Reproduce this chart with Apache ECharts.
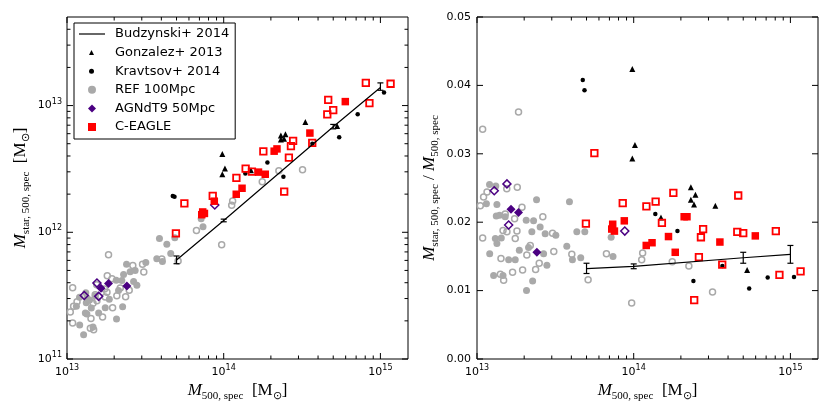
<!DOCTYPE html>
<html><head><meta charset="utf-8">
<script src="https://cdn.jsdelivr.net/npm/echarts@6/dist/echarts.min.js"></script>
<style>html,body{margin:0;padding:0;background:#fff}#c{width:830px;height:415px}</style>
</head><body><div id="c"></div>
<script>
// ---- data: [log10 M500 (Msun), Mstar/M500] ----
const refFilled = [[13.08,0.0255],[13.12,0.0253],[13.38,0.0233],[13.59,0.0230],[13.127,0.0226],[13.123,0.0209],[13.144,0.0210],[13.18,0.0208],[13.314,0.0203],[13.361,0.0202],[13.403,0.0193],[13.35,0.0186],[13.435,0.0183],[13.117,0.0176],[13.155,0.0177],[13.127,0.0169],[13.081,0.0154],[13.27,0.0159],[13.329,0.0163],[13.244,0.0145],[13.202,0.0145],[13.425,0.0154],[13.446,0.0137],[13.106,0.0122],[13.166,0.0122],[13.355,0.0114],[13.316,0.0100],[13.637,0.0186],[13.688,0.0186],[13.573,0.0165],[13.609,0.0145],[13.662,0.0148],[13.503,0.0181],[13.856,0.0178],[13.868,0.0150],[13.06,0.0227]];
const refHollow = [[13.265,0.0361],[13.036,0.0336],[13.257,0.0251],[13.19,0.0249],[13.064,0.0244],[13.042,0.0237],[13.021,0.0224],[13.036,0.0177],[13.153,0.0147],[13.149,0.0124],[13.17,0.0115],[13.227,0.0127],[13.291,0.0130],[13.374,0.0131],[13.397,0.0140],[13.49,0.0157],[13.605,0.0153],[13.709,0.0116],[13.826,0.0154],[13.987,0.0082],[14.057,0.0155],[14.051,0.0145],[14.246,0.0142],[14.352,0.0136],[14.503,0.0098],[13.191,0.0186],[13.255,0.0187],[13.482,0.0184],[13.18,0.0212],[13.24,0.0205],[13.287,0.0222],[13.42,0.0208],[13.166,0.0188],[13.244,0.0176],[13.34,0.0166],[13.318,0.0152]];
const agnFilled = [[13.217,0.0219],[13.265,0.0214],[13.382,0.0156]];
const agnHollow = [[13.191,0.0256],[13.110,0.0246],[13.202,0.0196],[13.943,0.0187]];
const ceFilled = [[13.866,0.0197],[13.860,0.0190],[13.877,0.0187],[13.940,0.0202],[14.080,0.0166],[14.117,0.0170],[14.222,0.0179],[14.265,0.0156],[14.322,0.0208],[14.340,0.0208],[14.550,0.0171],[14.776,0.0180]];
const ceHollow = [[13.749,0.0301],[13.930,0.0228],[14.081,0.0223],[14.140,0.0230],[14.253,0.0243],[14.667,0.0239],[13.695,0.0198],[14.180,0.0199],[14.443,0.0190],[14.429,0.0178],[14.416,0.0149],[14.565,0.0138],[14.661,0.0186],[14.699,0.0184],[14.907,0.0187],[14.930,0.0123],[15.065,0.0128],[14.386,0.0086]];
const kravtsov = [[13.675,0.0408],[13.686,0.0393],[14.138,0.0212],[14.279,0.0187],[14.381,0.0114],[14.566,0.0136],[14.737,0.0103],[14.855,0.0119],[15.023,0.0120]];
const gonzalez = [[13.991,0.0424],[14.008,0.0313],[13.991,0.0293],[14.365,0.0251],[14.394,0.0240],[14.365,0.0233],[14.385,0.0226],[14.521,0.0224],[14.174,0.0207],[14.724,0.0130]];
// Budzynski+ 2014 fit
const budM = [5e13, 1e14, 5e14, 1e15];
const budMstar = [6.05e11, 1.24e12, 6.8e12, 1.39e13];
const budMstarLo = [5.65e11, 1.21e12, 6.55e12, 1.32e13];
const budMstarHi = [6.5e11, 1.27e12, 7.1e12, 1.51e13];
const budFrac = [0.0132, 0.01355, 0.0148, 0.0153];
const budFracLo = [0.0125, 0.0132, 0.0140, 0.0140];
const budFracHi = [0.0140, 0.0139, 0.0156, 0.0166];
// ticks
const xMajor = [1e13, 1e14, 1e15];
const xMinor = [2e13,3e13,4e13,5e13,6e13,7e13,8e13,9e13,2e14,3e14,4e14,5e14,6e14,7e14,8e14,9e14];
const yLeftMajor = [1e11, 1e12, 1e13];
const yLeftMinor = [2e11,3e11,4e11,5e11,6e11,7e11,8e11,9e11,2e12,3e12,4e12,5e12,6e12,7e12,8e12,9e12,2e13,3e13,4e13];
const yRightMajor = [0, 0.01, 0.02, 0.03, 0.04, 0.05];

const GREY = '#a9a9a9', PURPLE = '#4b0082', RED = '#ff0000', NONE = 'rgba(0,0,0,0)';
const SERIF = 'Liberation Serif';
const nameRich = {
  m: {fontFamily: SERIF, fontStyle: 'italic', fontSize: 17, lineHeight: 22, color: '#000'},
  r: {fontFamily: SERIF, fontSize: 17, lineHeight: 22, color: '#000'},
  s: {fontFamily: SERIF, fontSize: 11, lineHeight: 11, verticalAlign: 'bottom', color: '#000'}
};
const logLabel = {
  formatter: v => {
    const l = Math.log10(v), r = Math.round(l);
    return Math.abs(l - r) < 1e-6 ? '{b|10}{s|' + r + '}' : '';
  },
  rich: {
    b: {fontFamily: 'DejaVu Sans', fontSize: 11, lineHeight: 16, color: '#000'},
    s: {fontFamily: 'DejaVu Sans', fontSize: 8, lineHeight: 8, verticalAlign: 'top', color: '#000'}
  }
};

function pt(idx, p) {
  const m = Math.pow(10, p[0]);
  return idx === 0 ? [m, m * p[1]] : [m, p[1]];
}
function sc(name, idx, arr, symbol, size, fill, border, bw) {
  return {
    type: 'scatter', name: name, xAxisIndex: idx, yAxisIndex: idx,
    symbol: symbol, symbolSize: size,
    data: arr.map(p => pt(idx, p)),
    itemStyle: {color: fill, borderColor: border, borderWidth: bw, opacity: 1},
    emphasis: {disabled: true}, silent: true
  };
}
function xTicks(idx, vals, len, yRef) {
  return {
    type: 'custom', xAxisIndex: idx, yAxisIndex: idx, silent: true, z: 10,
    data: vals.map(v => [v, yRef]),
    renderItem: (params, api) => {
      const cs = params.coordSys;
      const x = api.coord([api.value(0), api.value(1)])[0];
      const st = {stroke: '#000', lineWidth: 1};
      return {type: 'group', children: [
        {type: 'line', shape: {x1: x, y1: cs.y + cs.height, x2: x, y2: cs.y + cs.height - len}, style: st},
        {type: 'line', shape: {x1: x, y1: cs.y, x2: x, y2: cs.y + len}, style: st}
      ]};
    }
  };
}
function yTicks(idx, vals, len, xRef) {
  return {
    type: 'custom', xAxisIndex: idx, yAxisIndex: idx, silent: true, z: 10,
    data: vals.map(v => [xRef, v]),
    renderItem: (params, api) => {
      const cs = params.coordSys;
      const y = api.coord([api.value(0), api.value(1)])[1];
      const st = {stroke: '#000', lineWidth: 1};
      return {type: 'group', children: [
        {type: 'line', shape: {x1: cs.x, y1: y, x2: cs.x + len, y2: y}, style: st},
        {type: 'line', shape: {x1: cs.x + cs.width, y1: y, x2: cs.x + cs.width - len, y2: y}, style: st}
      ]};
    }
  };
}
function errBars(idx, xs, lo, hi) {
  return {
    type: 'custom', xAxisIndex: idx, yAxisIndex: idx, silent: true, z: 3,
    data: xs.map((x, i) => [x, lo[i], hi[i]]),
    encode: {x: 0, y: [1, 2]},
    renderItem: (params, api) => {
      const x = api.value(0);
      const p1 = api.coord([x, api.value(1)]), p2 = api.coord([x, api.value(2)]);
      const st = {stroke: '#000', lineWidth: 1.2};
      return {type: 'group', children: [
        {type: 'line', shape: {x1: p1[0], y1: p1[1], x2: p2[0], y2: p2[1]}, style: st},
        {type: 'line', shape: {x1: p1[0] - 3, y1: p1[1], x2: p1[0] + 3, y2: p1[1]}, style: st},
        {type: 'line', shape: {x1: p2[0] - 3, y1: p2[1], x2: p2[0] + 3, y2: p2[1]}, style: st}
      ]};
    }
  };
}
function budLine(idx, ys) {
  return {
    type: 'line', name: 'Budzynski+ 2014', xAxisIndex: idx, yAxisIndex: idx,
    data: budM.map((m, i) => [m, ys[i]]), symbol: 'none',
    lineStyle: {color: '#000', width: 1.2}, itemStyle: {color: '#000'},
    emphasis: {disabled: true}, silent: true, z: 3
  };
}
function panelSeries(idx) {
  return [
    budLine(idx, idx === 0 ? budMstar : budFrac),
    errBars(idx, budM, idx === 0 ? budMstarLo : budFracLo, idx === 0 ? budMstarHi : budFracHi),
    sc('Gonzalez+ 2013', idx, gonzalez, 'triangle', 6, '#000', '#000', 0),
    sc('Kravtsov+ 2014', idx, kravtsov, 'circle', 4.5, '#000', '#000', 0),
    sc('REF 100Mpc', idx, refFilled, 'circle', 7, GREY, GREY, 0),
    sc('REF 100Mpc hollow', idx, refHollow, 'circle', 6, NONE, GREY, 1.5),
    sc('AGNdT9 50Mpc', idx, agnFilled, 'diamond', 9, PURPLE, PURPLE, 0),
    sc('AGNdT9 50Mpc hollow', idx, agnHollow, 'diamond', 8, NONE, PURPLE, 1.5),
    sc('C-EAGLE', idx, ceFilled, 'rect', 7.5, RED, RED, 0),
    sc('C-EAGLE hollow', idx, ceHollow, 'rect', 6.5, NONE, RED, 1.8),
    xTicks(idx, xMajor, 6, idx === 0 ? 1e12 : 0.02),
    xTicks(idx, xMinor, 3.5, idx === 0 ? 1e12 : 0.02),
    yTicks(idx, idx === 0 ? yLeftMajor : yRightMajor, 6, 1e14)
  ].concat(idx === 0 ? [yTicks(0, yLeftMinor, 3.5, 1e14)] : []);
}

const xName = '{m|M}{s|500, spec}{r|  [M}{s|⊙}{r|]}';
const xAxisBase = {
  type: 'log', logBase: 10, min: 1e13, max: 1.5e15,
  axisLine: {show: false}, axisTick: {show: false}, splitLine: {show: false},
  axisLabel: Object.assign({margin: 5}, logLabel),
  name: xName, nameLocation: 'middle', nameGap: 21, nameTextStyle: {rich: nameRich}
};
const legendText = (padLeft) => ({fontFamily: 'DejaVu Sans', fontSize: 13, lineHeight: 14, color: '#000', padding: [0, 0, 0, padLeft]});

const option = {
  animation: false,
  backgroundColor: '#fff',
  grid: [
    {left: 67, top: 17, width: 341, height: 342, show: true, borderColor: '#000', borderWidth: 1, backgroundColor: 'rgba(0,0,0,0)'},
    {left: 477, top: 17, width: 341, height: 342, show: true, borderColor: '#000', borderWidth: 1, backgroundColor: 'rgba(0,0,0,0)'}
  ],
  xAxis: [
    Object.assign({gridIndex: 0}, xAxisBase),
    Object.assign({gridIndex: 1}, xAxisBase)
  ],
  yAxis: [
    {
      gridIndex: 0, type: 'log', logBase: 10, min: 1e11, max: 5e13,
      axisLine: {show: false}, axisTick: {show: false}, splitLine: {show: false},
      axisLabel: Object.assign({margin: 5}, logLabel),
      name: '{m|M}{s|star, 500, spec}{r|  [M}{s|⊙}{r|]}', nameLocation: 'middle', nameGap: 35,
      nameTextStyle: {rich: nameRich}
    },
    {
      gridIndex: 1, type: 'value', min: 0, max: 0.05, interval: 0.01,
      axisLine: {show: false}, axisTick: {show: false}, splitLine: {show: false},
      axisLabel: {margin: 6, formatter: v => v.toFixed(2), fontFamily: 'DejaVu Sans', fontSize: 11, color: '#000'},
      name: '{m|M}{s|star, 500, spec}{r| / }{m|M}{s|500, spec}', nameLocation: 'middle', nameGap: 36,
      nameTextStyle: {rich: nameRich}
    }
  ],
  legend: [
    {
      orient: 'vertical', left: 74, top: 23, padding: [4, 6, 98, 5], itemGap: 4.6,
      itemWidth: 26, itemHeight: 7, borderColor: '#000', borderWidth: 1, backgroundColor: '#fff',
      selectedMode: false, z: 4,
      textStyle: legendText(5),
      data: [{name: 'Budzynski+ 2014', icon: 'path://M0,0H26V1.2H0Z'}]
    },
    {
      orient: 'vertical', left: 89, top: 45.6, padding: 0, itemGap: 4.6,
      itemWidth: 5, itemHeight: 5, selectedMode: false, z: 5,
      textStyle: legendText(16),
      data: ['Gonzalez+ 2013', 'Kravtsov+ 2014']
    },
    {
      orient: 'vertical', left: 88, top: 82.8, padding: 0, itemGap: 4.6,
      itemWidth: 8, itemHeight: 8, selectedMode: false, z: 5,
      textStyle: legendText(14),
      data: ['REF 100Mpc', 'AGNdT9 50Mpc', 'C-EAGLE']
    }
  ],
  series: panelSeries(0).concat(panelSeries(1))
};
const chart = echarts.init(document.getElementById('c'));
chart.setOption(option);
</script></body></html>
